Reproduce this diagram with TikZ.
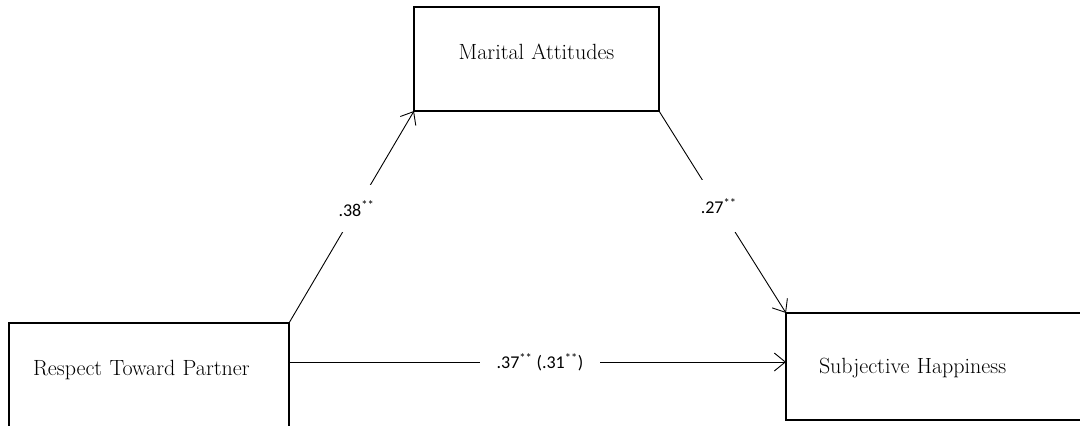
\documentclass[tikz,border=0pt]{standalone}
\usepackage{fontspec}
\newfontfamily\lblfont{Carlito}
\usetikzlibrary{arrows.meta,calc}

\begin{document}
\begin{tikzpicture}[x=1pt,y=-1pt,>={Straight Barb[length=11pt,width=18pt]},
  box/.style={draw,line width=1.2pt,outer sep=0pt,inner ysep=0pt,anchor=north west,
    font=\fontsize{22}{26}\selectfont},
  link/.style={->,line width=0.9pt},
  coef/.style={fill=white,font=\lblfont\fontsize{18}{22}\selectfont}]
  \useasboundingbox (0,0) rectangle (1080,426);
  \clip (0,0) rectangle (1080,426);

  % Boxes
  \node[box,text width=245pt,inner xsep=0pt,align=center,text height=52pt,text depth=52pt]
    (mar) at (414,7) {Marital Attitudes};
  \node[box,text width=232pt,inner xsep=24pt,align=left,text height=52pt,text depth=80pt]
    (resp) at (9,323) {Respect Toward Partner};
  \node[box,text width=260pt,inner xsep=33pt,align=left,text height=60pt,text depth=47pt]
    (subj) at (786,313) {Subjective Happiness};

  % Paths
  \draw[link] (resp.north east) -- (mar.south west)
    node[coef,pos=0.54,inner xsep=2pt,inner ysep=16pt] {.38\textsuperscript{**}};
  \draw[link] (mar.south east) -- (subj.north west)
    node[coef,pos=0.47,inner xsep=2pt,inner ysep=18pt] {.27\textsuperscript{**}};
  \draw[link] ([yshift=-39pt]resp.north east) -- ([yshift=-49pt]subj.north west)
    node[coef,pos=0.505,inner xsep=17pt,inner ysep=2pt] {.37\textsuperscript{**} (.31\textsuperscript{**})};
\end{tikzpicture}
\end{document}
